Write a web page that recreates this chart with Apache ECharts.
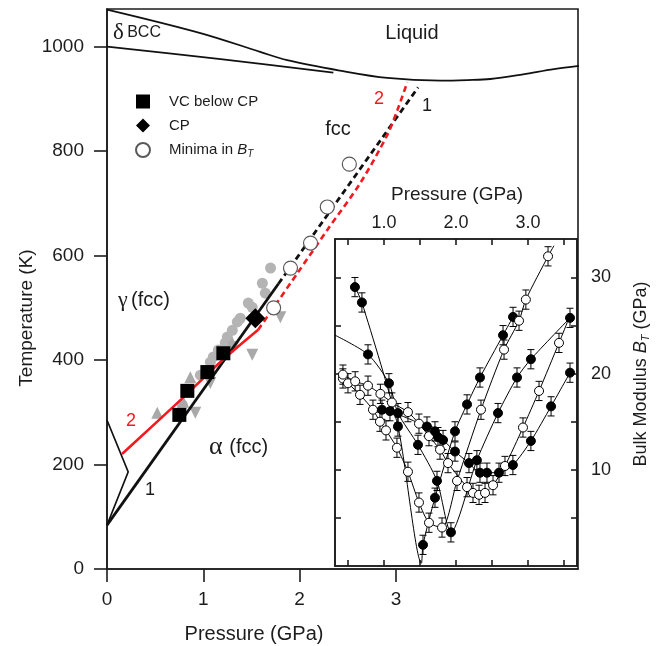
<!DOCTYPE html>
<html>
<head>
<meta charset="utf-8">
<script src="https://cdn.jsdelivr.net/npm/echarts@6/dist/echarts.min.js"></script>
<style>
html,body{margin:0;padding:0;background:#fff;}
#chart{width:670px;height:646px;}
</style>
</head>
<body>
<div id="chart"></div>
<script>
// ---- Phase diagram (main panel): temperature (K) vs pressure (GPa) ----
const liquidBoundary = [[0,1071],[0.97,1026],[1.59,990],[1.87,974],[2.42,954],[2.91,940],[3.46,935],[3.74,936],[3.98,938],[4.32,947],[4.64,957],[4.9,963]];
const deltaGammaBoundary = [[0,1000],[1.18,976],[2.35,950]];
const lowTempBoundary = [[0,285],[0.22,186],[0,84]];
const line1Solid = [[0,84],[1.78,546]];
const line1Dashed = [[1.78,546],[3.23,922]];
const line2Solid = [[0.156,220],[0.79,328],[1.2,400],[1.57,458]];
const line2Dashed = [[1.57,458],[1.976,566],[2.287,649],[2.63,739],[2.91,831],[3.014,878],[3.118,932]];

const vcBelowCP = [[0.751,295],[0.834,341],[1.042,377],[1.208,413]];
const criticalPoint = [[1.54,480]];
const minimaBT = [[1.73,500],[1.905,576],[2.113,624],[2.287,693],[2.516,775]];

const grayCircles = [[1.698,576],[1.613,547],[1.644,528],[1.467,509],[1.508,501],[1.384,480],[1.353,473],[1.301,457],[1.249,444],[1.228,433],[1.156,419],[1.104,406],[1.073,396],[0.969,371],[0.782,314]];
const grayTrianglesDown = [[1.8,482],[1.508,410],[0.917,299],[1.073,356],[1.312,425]];
const grayTrianglesUp = [[0.522,299],[0.865,367],[1.301,433],[0.792,320]];

// ---- Inset: bulk modulus B_T (GPa) vs pressure (GPa) along isotherms ----
const iso1 = [[0.597,29.0],[0.694,27.4],[1.194,14.5],[1.542,2.2],[1.708,7.1],[1.986,14.0],[2.153,16.8],[2.333,19.6],[2.653,24.0],[2.792,25.9]];
const iso1Curve = [[1.52,0.3]];
const iso2 = [[0.43,19.5],[0.5,19.0],[0.667,17.8],[0.847,16.25],[0.944,15.0],[1.028,14.1],[1.18,12.3],[1.333,9.8],[1.486,6.6],[1.625,4.5],[1.806,4.0],[2.014,8.85],[2.347,16.25],[2.667,22.5],[2.875,25.5],[2.97,27.7],[3.278,32.2]];
const iso2Curve = [[3.36,33.3]];
const iso3 = [[0.778,22.0],[1.069,19.0],[1.194,15.9],[1.472,12.6],[1.736,8.85],[1.93,3.5],[2.29,11.0],[2.583,15.9],[2.847,19.6],[3.04,21.5],[3.583,25.8]];
const iso3Curve = [[0.32,24.0]];
const iso4 = [[0.43,19.9],[0.6,19.2],[0.778,18.75],[0.95,17.9],[1.11,17.0],[1.333,16.0],[1.486,14.8],[1.625,13.5],[1.778,12.1],[1.889,10.7],[2.153,8.2],[2.236,7.6],[2.32,7.4],[2.403,7.6],[2.514,8.4],[2.68,10.4],[2.93,14.4],[3.153,18.2],[3.43,23.2]];
const iso4Curve = [[3.56,25.6]];
const iso5 = [[0.972,16.25],[1.083,16.1],[1.597,14.5],[1.708,14.0],[1.75,13.4],[1.82,13.1],[1.986,11.9],[2.18,10.7],[2.333,9.7],[2.43,9.7],[2.597,9.7],[2.79,10.5],[3.04,13.0],[3.32,16.6],[3.583,20.1]];
const errorBT = 1.0;

const pressureTicks = [0,1,2,3];
const temperatureTicks = [0,200,400,600,800,1000];
const insetPressureTicks = [0.5,1,1.5,2,2.5,3,3.5];
const insetPressureLabels = [1,2,3];
const insetModulusTicks = [5,10,15,20,25,30];
const insetModulusLabels = [10,20,30];

const SANS = '"Liberation Sans", Arial, Helvetica, sans-serif';
const SERIF = '"Liberation Serif", "Times New Roman", serif';
const INK = '#1c1c1c';
const RED = '#f01a1f';

const chart = echarts.init(document.getElementById('chart'));

function curveOf(points, extra) {
  return points.concat(extra || []).slice().sort((a, b) => a[0] - b[0]);
}

function isoSeries(points, extra, filled) {
  const markerKeys = new Set(points.map(p => p.join(',')));
  const data = curveOf(points, extra).map(p => markerKeys.has(p.join(',')) ? p : {value: p, symbol: 'none'});
  return {
    type: 'line', xAxisIndex: 1, yAxisIndex: 1, data: data,
    smooth: 0.25, symbol: 'circle', symbolSize: 9, showSymbol: true,
    lineStyle: {color: '#000', width: 1},
    itemStyle: filled ? {color: '#000', borderColor: '#000', borderWidth: 1, opacity: 1} : {color: '#fff', borderColor: '#000', borderWidth: 1, opacity: 1},
    emphasis: {disabled: true}, z: 4, animation: false
  };
}

const allIsoPoints = [].concat(iso1, iso2, iso3, iso4, iso5).map(p => [p[0], p[1], errorBT]);

function renderErrorBar(params, api) {
  const p = api.value(0), b = api.value(1), e = api.value(2);
  const hi = api.coord([p, b + e]);
  const lo = api.coord([p, b - e]);
  const hw = 3.5;
  const st = {stroke: '#000', lineWidth: 1};
  return {type: 'group', children: [
    {type: 'line', shape: {x1: hi[0], y1: hi[1], x2: lo[0], y2: lo[1]}, style: st},
    {type: 'line', shape: {x1: hi[0] - hw, y1: hi[1], x2: hi[0] + hw, y2: hi[1]}, style: st},
    {type: 'line', shape: {x1: lo[0] - hw, y1: lo[1], x2: lo[0] + hw, y2: lo[1]}, style: st}
  ]};
}

function mainLine(data, color, width, dashed, smooth) {
  return {
    type: 'line', data: data, smooth: smooth || 0, symbol: 'none',
    lineStyle: {color: color, width: width, type: dashed ? [6, 4] : 'solid', cap: 'butt'},
    emphasis: {disabled: true}, z: 2, animation: false
  };
}

const axisLineStyle = {color: INK, width: 1.6};
const plain = v => String(v);

const option = {
  backgroundColor: '#fff',
  animation: false,
  grid: [
    {left: 107, top: 9, width: 471, height: 560, show: true, borderColor: INK, borderWidth: 1.6, backgroundColor: 'rgba(0,0,0,0)'},
    {left: 335, top: 239, width: 242, height: 327, show: true, borderColor: INK, borderWidth: 1.6, backgroundColor: '#fff'}
  ],
  legend: {
    orient: 'vertical', left: 130, top: 89, itemWidth: 14, itemHeight: 14, itemGap: 9,
    selectedMode: false,
    data: ['VC below CP', 'CP', 'Minima in BT'],
    formatter: name => name === 'Minima in BT' ? '{n|Minima in }{i|B}{s|T}' : '{n|' + name + '}',
    textStyle: {
      color: INK, fontFamily: SANS, fontSize: 15, padding: [0, 0, 0, 14],
      rich: {
        n: {fontFamily: SANS, fontSize: 15, color: INK},
        i: {fontFamily: SANS, fontSize: 15, fontStyle: 'italic', color: INK},
        s: {fontFamily: SANS, fontSize: 10, fontStyle: 'italic', color: INK, verticalAlign: 'bottom', padding: [8, 0, 0, 0]}
      }
    }
  },
  xAxis: [
    {gridIndex: 0, type: 'value', min: 0, max: 4.89,
     axisLine: {onZero: false, lineStyle: axisLineStyle},
     axisTick: {length: 13, customValues: pressureTicks, lineStyle: axisLineStyle},
     axisLabel: {customValues: pressureTicks, formatter: plain, margin: 21, fontSize: 19, color: INK, fontFamily: SANS},
     splitLine: {show: false}},
    {gridIndex: 1, type: 'value', position: 'top', min: 0.32, max: 3.68,
     axisLine: {onZero: false, lineStyle: axisLineStyle},
     axisTick: {inside: true, length: 6, customValues: insetPressureTicks, lineStyle: axisLineStyle},
     axisLabel: {customValues: insetPressureLabels, formatter: v => Number(v).toFixed(1), margin: 7, fontSize: 18, color: INK, fontFamily: SANS},
     splitLine: {show: false}},
    {gridIndex: 1, type: 'value', position: 'bottom', min: 0.32, max: 3.68,
     axisLine: {onZero: false, lineStyle: axisLineStyle},
     axisTick: {inside: true, length: 6, customValues: insetPressureTicks, lineStyle: axisLineStyle},
     axisLabel: {show: false}, splitLine: {show: false}}
  ],
  yAxis: [
    {gridIndex: 0, type: 'value', min: 0, max: 1072,
     axisLine: {onZero: false, lineStyle: axisLineStyle},
     axisTick: {length: 13, customValues: temperatureTicks, lineStyle: axisLineStyle},
     axisLabel: {customValues: temperatureTicks, formatter: plain, margin: 23, fontSize: 19, color: INK, fontFamily: SANS},
     splitLine: {show: false}},
    {gridIndex: 1, type: 'value', position: 'right', min: 0, max: 34,
     axisLine: {onZero: false, lineStyle: axisLineStyle},
     axisTick: {inside: true, length: 6, customValues: insetModulusTicks, lineStyle: axisLineStyle},
     axisLabel: {customValues: insetModulusLabels, formatter: plain, margin: 14, fontSize: 18, color: INK, fontFamily: SANS},
     splitLine: {show: false}},
    {gridIndex: 1, type: 'value', position: 'left', min: 0, max: 34,
     axisLine: {onZero: false, lineStyle: axisLineStyle},
     axisTick: {inside: true, length: 6, customValues: insetModulusTicks, lineStyle: axisLineStyle},
     axisLabel: {show: false}, splitLine: {show: false}}
  ],
  series: [
    // background measurements
    {type: 'scatter', name: 'gray-c', data: grayCircles, symbol: 'circle', symbolSize: 11, itemStyle: {color: '#b4b4b4', opacity: 1}, z: 1, silent: true},
    {type: 'scatter', name: 'gray-td', data: grayTrianglesDown, symbol: 'triangle', symbolRotate: 180, symbolSize: 12, itemStyle: {color: '#a9a9a9', opacity: 1}, z: 1, silent: true},
    {type: 'scatter', name: 'gray-tu', data: grayTrianglesUp, symbol: 'triangle', symbolSize: 12, itemStyle: {color: '#a9a9a9', opacity: 1}, z: 1, silent: true},
    // phase boundaries
    mainLine(liquidBoundary, '#111', 1.8, false, 0.35),
    mainLine(deltaGammaBoundary, '#111', 1.8, false, 0.3),
    mainLine(lowTempBoundary, '#111', 1.6, false, 0),
    mainLine(line1Solid, '#111', 2.8, false, 0),
    mainLine(line1Dashed, '#111', 2.8, true, 0),
    mainLine(line2Solid, RED, 2.6, false, 0.3),
    mainLine(line2Dashed, RED, 2.6, true, 0.3),
    // markers
    {type: 'scatter', name: 'VC below CP', data: vcBelowCP, symbol: 'rect', symbolSize: 14, itemStyle: {color: '#000', opacity: 1}, z: 5},
    {type: 'scatter', name: 'CP', data: criticalPoint, symbol: 'diamond', symbolSize: [20, 20], itemStyle: {color: '#000', opacity: 1}, z: 5},
    {type: 'scatter', name: 'Minima in BT', data: minimaBT, symbol: 'circle', symbolSize: 14, itemStyle: {color: '#fff', borderColor: '#5a5a5a', borderWidth: 1.2, opacity: 1}, z: 5},
    // inset
    {type: 'custom', xAxisIndex: 1, yAxisIndex: 1, data: allIsoPoints, renderItem: renderErrorBar, encode: {x: 0, y: 1}, z: 3, silent: true},
    isoSeries(iso1, iso1Curve, true),
    isoSeries(iso2, iso2Curve, false),
    isoSeries(iso3, iso3Curve, true),
    isoSeries(iso4, iso4Curve, false),
    isoSeries(iso5, [], true)
  ],
  graphic: [
    {type: 'text', x: 412, y: 33, style: {text: 'Liquid', fontFamily: SANS, fontSize: 20, fill: INK, align: 'center', verticalAlign: 'middle', textAlign: 'center', textVerticalAlign: 'middle'}},
    {type: 'text', x: 113, y: 33, style: {text: '{g|δ} {t|BCC}', fill: INK, align: 'left', verticalAlign: 'middle', textAlign: 'left', textVerticalAlign: 'middle',
      rich: {g: {fontFamily: SERIF, fontSize: 23, fill: INK}, t: {fontFamily: SANS, fontSize: 16, fill: INK}}}},
    {type: 'text', x: 338, y: 129, style: {text: 'fcc', fontFamily: SANS, fontSize: 20, fill: INK, align: 'center', verticalAlign: 'middle', textAlign: 'center', textVerticalAlign: 'middle'}},
    {type: 'text', x: 379, y: 99, style: {text: '2', fontFamily: SANS, fontSize: 18, fill: RED, align: 'center', verticalAlign: 'middle', textAlign: 'center', textVerticalAlign: 'middle'}},
    {type: 'text', x: 427, y: 106, style: {text: '1', fontFamily: SANS, fontSize: 18, fill: INK, align: 'center', verticalAlign: 'middle', textAlign: 'center', textVerticalAlign: 'middle'}},
    {type: 'text', x: 118, y: 300, style: {text: '{g|γ} {t|(fcc)}', fill: INK, align: 'left', verticalAlign: 'middle', textAlign: 'left', textVerticalAlign: 'middle',
      rich: {g: {fontFamily: SERIF, fontSize: 22, fill: INK}, t: {fontFamily: SANS, fontSize: 20, fill: INK}}}},
    {type: 'text', x: 209, y: 447, style: {text: '{g|α}  {t|(fcc)}', fill: INK, align: 'left', verticalAlign: 'middle', textAlign: 'left', textVerticalAlign: 'middle',
      rich: {g: {fontFamily: SERIF, fontSize: 26, fill: INK}, t: {fontFamily: SANS, fontSize: 20, fill: INK}}}},
    {type: 'text', x: 131, y: 421, style: {text: '2', fontFamily: SANS, fontSize: 18, fill: RED, align: 'center', verticalAlign: 'middle', textAlign: 'center', textVerticalAlign: 'middle'}},
    {type: 'text', x: 150, y: 490, style: {text: '1', fontFamily: SANS, fontSize: 18, fill: INK, align: 'center', verticalAlign: 'middle', textAlign: 'center', textVerticalAlign: 'middle'}},
    {type: 'text', x: 254, y: 634, style: {text: 'Pressure (GPa)', fontFamily: SANS, fontSize: 20, fill: INK, align: 'center', verticalAlign: 'middle', textAlign: 'center', textVerticalAlign: 'middle'}},
    {type: 'text', x: 27, y: 318, rotation: Math.PI / 2, style: {text: 'Temperature (K)', fontFamily: SANS, fontSize: 19, fill: INK, align: 'center', verticalAlign: 'middle', textAlign: 'center', textVerticalAlign: 'middle'}},
    {type: 'text', x: 457, y: 195, style: {text: 'Pressure (GPa)', fontFamily: SANS, fontSize: 19, fill: INK, align: 'center', verticalAlign: 'middle', textAlign: 'center', textVerticalAlign: 'middle'}},
    {type: 'text', x: 641, y: 374, rotation: Math.PI / 2, style: {text: '{n|Bulk Modulus }{i|B}{s|T}{n| (GPa)}', fill: INK, align: 'center', verticalAlign: 'middle', textAlign: 'center', textVerticalAlign: 'middle',
      rich: {n: {fontFamily: SANS, fontSize: 18, fill: INK}, i: {fontFamily: SANS, fontSize: 18, fontStyle: 'italic', fill: INK},
             s: {fontFamily: SANS, fontSize: 11, fontStyle: 'italic', fill: INK, verticalAlign: 'bottom', padding: [9, 0, 0, 0]}}}}
  ]
};

chart.setOption(option);
</script>
</body>
</html>
